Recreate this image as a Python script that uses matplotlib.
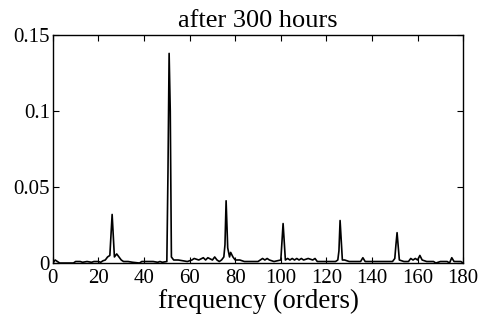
import matplotlib.pyplot as plt

plt.rcParams['font.family'] = ['Liberation Serif', 'DejaVu Serif']

# spectrum: (order, amplitude)
spectrum = [
    (0, 0.0), (1, 0.002), (2, 0.001), (3, 0.0), (9, 0.0), (10, 0.001), (12, 0.001),
    (13, 0.0005), (15, 0.001), (17, 0.0005), (18, 0.001), (20, 0.001), (21, 0.0005),
    (22, 0.0015), (23, 0.002), (24, 0.004), (25, 0.005), (26, 0.032), (27, 0.004),
    (28, 0.006), (29, 0.004), (30, 0.002), (31, 0.001), (33, 0.001), (35, 0.0005),
    (38, 0.0), (39, 0.001), (44, 0.001), (46, 0.0005), (47, 0.001), (48, 0.0005),
    (50, 0.001), (50.5, 0.06), (51, 0.138), (51.5, 0.1), (52, 0.004), (53, 0.002),
    (55, 0.002), (57, 0.0015), (59, 0.001), (61, 0.002), (62, 0.003), (64, 0.002),
    (66, 0.0035), (67, 0.002), (68, 0.0035), (70, 0.002), (71, 0.004), (72, 0.002),
    (73, 0.001), (74, 0.002), (75, 0.004), (75.5, 0.012), (76, 0.041), (76.7, 0.01),
    (77.5, 0.004), (78, 0.007), (79, 0.004), (80, 0.002), (82, 0.002), (84, 0.001),
    (90, 0.001), (91, 0.002), (92, 0.003), (93, 0.002), (94, 0.003), (95, 0.002),
    (97, 0.001), (100, 0.002), (101, 0.026), (102, 0.002), (103, 0.003), (104, 0.002),
    (105, 0.003), (106, 0.002), (107, 0.003), (108, 0.002), (109, 0.003), (110, 0.002),
    (112, 0.003), (114, 0.002), (115, 0.003), (116, 0.001), (124, 0.001), (125, 0.002),
    (125.5, 0.008), (126, 0.028), (127, 0.002), (128, 0.002), (130, 0.001), (135, 0.001),
    (136, 0.0035), (137, 0.001), (149, 0.001), (150, 0.003), (150.5, 0.012), (151, 0.02),
    (152, 0.002), (154, 0.001), (156, 0.001), (157, 0.003), (158, 0.002), (159, 0.003),
    (160, 0.002), (161, 0.005), (162, 0.002), (164, 0.001), (167, 0.001), (168, 0.0),
    (170, 0.001), (173, 0.001), (174, 0.0), (175, 0.0035), (176, 0.001), (179, 0.001),
    (180, 0.0),
]
freq = [p[0] for p in spectrum]
amp = [p[1] for p in spectrum]

fig = plt.figure(figsize=(4.85, 3.2), dpi=100)
ax = fig.add_axes([0.109, 0.178, 0.846, 0.712])
ax.plot(freq, amp, color='black', linewidth=1.2)
ax.set_xlim(0, 180)
ax.set_ylim(0, 0.15)
ax.set_xticks(range(0, 181, 20))
ax.set_yticks([0, 0.05, 0.1, 0.15])
ax.set_yticklabels(['0', '0.05', '0.1', '0.15'])
ax.tick_params(direction='in', top=True, right=True, length=4, labelsize=15)
ax.tick_params(axis='x', pad=4)
ax.tick_params(axis='y', pad=2)
ax.set_title('after 300 hours', fontsize=19, pad=6)
ax.set_xlabel('frequency (orders)', fontsize=19.5, labelpad=1)
for s in ax.spines.values():
    s.set_linewidth(1.0)
fig.savefig('out.png', dpi=100)
